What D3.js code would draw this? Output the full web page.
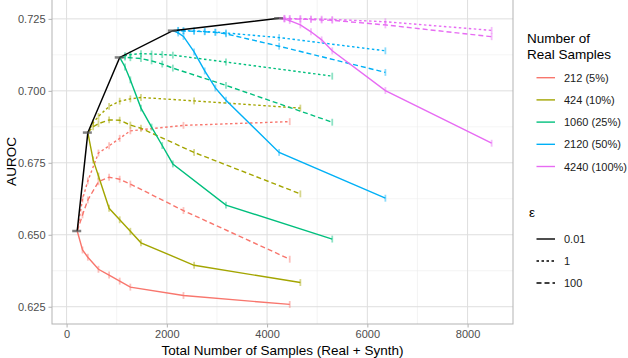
<!DOCTYPE html>
<html>
<head>
<meta charset="utf-8">
<script src="https://cdn.jsdelivr.net/npm/d3@7"></script>
<style>
body { margin: 0; background: #fff; }
svg { font-family: "Liberation Sans", Arial, sans-serif; }
</style>
</head>
<body>
<svg id="chart" width="628" height="358"></svg>
<script>
// Data
const realSizes = [212, 424, 1060, 2120, 4240]
const realLabels = ['212 (5%)', '424 (10%)', '1060 (25%)', '2120 (50%)', '4240 (100%)']
const epsilons = ['0.01', '1', '100']
const synthSteps = [0, 106, 212, 424, 636, 848, 1060, 2120, 4240]
const baselineAuroc = [0.6513, 0.6855, 0.7116, 0.7209, 0.7252]

// one row per epsilon (0.01, 1, 100), one value per synth step
const auroc212 = [
    [0.6513, 0.6447, 0.6422, 0.6380, 0.6360, 0.6339, 0.6318, 0.6289, 0.6258],
    [0.6513, 0.6624, 0.6687, 0.6784, 0.6809, 0.6835, 0.6861, 0.6880, 0.6893],
    [0.6513, 0.6569, 0.6621, 0.6684, 0.6700, 0.6693, 0.6676, 0.6584, 0.6415]
]
const auroc424 = [
    [0.6855, 0.6760, 0.6704, 0.6592, 0.6552, 0.6512, 0.6472, 0.6394, 0.6334],
    [0.6855, 0.6889, 0.6911, 0.6946, 0.6964, 0.6972, 0.6977, 0.6965, 0.6940],
    [0.6855, 0.6875, 0.6886, 0.6899, 0.6898, 0.6881, 0.6870, 0.6786, 0.6642]
]
const auroc1060 = [
    [0.7116, 0.7083, 0.7038, 0.6940, 0.6874, 0.6810, 0.6746, 0.6603, 0.6485],
    [0.7116, 0.7122, 0.7126, 0.7129, 0.7128, 0.7126, 0.7124, 0.7100, 0.7051],
    [0.7116, 0.7117, 0.7115, 0.7112, 0.7104, 0.7093, 0.7079, 0.7019, 0.6891]
]
const auroc2120 = [
    [0.7209, 0.7201, 0.7189, 0.7135, 0.7069, 0.7010, 0.6967, 0.6786, 0.6627],
    [0.7209, 0.7210, 0.7209, 0.7208, 0.7206, 0.7204, 0.7201, 0.7185, 0.7139],
    [0.7209, 0.7209, 0.7208, 0.7207, 0.7205, 0.7203, 0.7198, 0.7155, 0.7064]
]
const auroc4240 = [
    [0.7252, 0.7249, 0.7244, 0.7229, 0.7205, 0.7177, 0.7139, 0.7001, 0.6818],
    [0.7252, 0.7252, 0.7251, 0.7251, 0.7250, 0.7249, 0.7248, 0.7240, 0.7210],
    [0.7252, 0.7251, 0.7250, 0.7249, 0.7248, 0.7246, 0.7245, 0.7229, 0.7188]
]
const aurocByReal = [auroc212, auroc424, auroc1060, auroc2120, auroc4240]
const errHalf = 0.0012

const xTicks = [0, 2000, 4000, 6000, 8000]
const xMinor = [1000, 3000, 5000, 7000]
const yTicks = [0.625, 0.650, 0.675, 0.700, 0.725]
const yMinor = [0.6375, 0.6625, 0.6875, 0.7125]

// Presentation
const palette = ['#F8766D', '#A3A500', '#00BF7D', '#00B0F6', '#E76BF3']
const dashes = { '0.01': null, '1': '2.5,2.5', '100': '5,3' }
const panel = { left: 52, right: 513, top: -1, bottom: 324 }

const svg = d3.select('#chart')

// Scales
const x = d3.scaleLinear().domain([-291, 8906]).range([panel.left, panel.right])
const y = d3.scaleLinear().domain([0.619, 0.7319]).range([panel.bottom, panel.top])

// Grid
const grid = svg.append('g')
grid.selectAll('line.xminor').data(xMinor).join('line')
    .attr('x1', d => x(d)).attr('x2', d => x(d))
    .attr('y1', panel.top).attr('y2', panel.bottom)
    .attr('stroke', '#ececec').attr('stroke-width', 0.6)
grid.selectAll('line.yminor').data(yMinor).join('line')
    .attr('y1', d => y(d)).attr('y2', d => y(d))
    .attr('x1', panel.left).attr('x2', panel.right)
    .attr('stroke', '#ececec').attr('stroke-width', 0.6)
grid.selectAll('line.xmajor').data(xTicks).join('line')
    .attr('x1', d => x(d)).attr('x2', d => x(d))
    .attr('y1', panel.top).attr('y2', panel.bottom)
    .attr('stroke', '#dedede').attr('stroke-width', 1)
grid.selectAll('line.ymajor').data(yTicks).join('line')
    .attr('y1', d => y(d)).attr('y2', d => y(d))
    .attr('x1', panel.left).attr('x2', panel.right)
    .attr('stroke', '#dedede').attr('stroke-width', 1)

// Series
const series = []
realSizes.forEach((n, i) => {
    epsilons.forEach((eps, j) => {
        series.push({
            color: palette[i],
            eps,
            points: synthSteps.map((s, k) => ({ total: n + s, auroc: aurocByReal[i][j][k] }))
        })
    })
})

const line = d3.line().x(d => x(d.total)).y(d => y(d.auroc))

const plot = svg.append('g')

// error bars
series.forEach(s => {
    plot.append('g')
        .selectAll('line')
        .data(s.points.slice(1))
        .join('line')
        .attr('x1', d => x(d.total)).attr('x2', d => x(d.total))
        .attr('y1', d => y(d.auroc - errHalf)).attr('y2', d => y(d.auroc + errHalf))
        .attr('stroke', s.color).attr('stroke-opacity', 0.45).attr('stroke-width', 1.8)
})

plot.selectAll('path.series').data(series).join('path')
    .attr('class', 'series')
    .attr('d', d => line(d.points))
    .attr('fill', 'none')
    .attr('stroke', d => d.color)
    .attr('stroke-width', 1.4)
    .attr('stroke-dasharray', d => dashes[d.eps])

// real-only baseline
const baseline = realSizes.map((n, i) => ({ total: n, auroc: baselineAuroc[i] }))
plot.append('path')
    .attr('d', line(baseline))
    .attr('fill', 'none')
    .attr('stroke', '#000')
    .attr('stroke-width', 1.5)
plot.selectAll('line.base').data(baseline).join('line')
    .attr('x1', d => x(d.total) - 5).attr('x2', d => x(d.total) + 4)
    .attr('y1', d => y(d.auroc)).attr('y2', d => y(d.auroc))
    .attr('stroke', '#555').attr('stroke-opacity', 0.75).attr('stroke-width', 2.5)

// Panel border
svg.append('rect')
    .attr('x', panel.left).attr('y', panel.top)
    .attr('width', panel.right - panel.left).attr('height', panel.bottom - panel.top)
    .attr('fill', 'none').attr('stroke', '#b3b3b3').attr('stroke-width', 1)

// Axes
const xAxis = svg.append('g')
    .attr('transform', `translate(0, ${panel.bottom})`)
    .call(d3.axisBottom(x).tickValues(xTicks).tickFormat(d3.format('d')).tickSize(3.5).tickPadding(3))
const yAxis = svg.append('g')
    .attr('transform', `translate(${panel.left}, 0)`)
    .call(d3.axisLeft(y).tickValues(yTicks).tickFormat(d3.format('.3f')).tickSize(3.5).tickPadding(3))
;[xAxis, yAxis].forEach(a => {
    a.select('.domain').remove()
    a.selectAll('.tick line').attr('stroke', '#b3b3b3')
    a.selectAll('.tick text')
        .attr('fill', '#4d4d4d')
        .style('font-size', '11px')
        .style('font-family', '"Liberation Sans", Arial, sans-serif')
})

// Axis titles
svg.append('text')
    .attr('x', (panel.left + panel.right) / 2).attr('y', 355)
    .attr('text-anchor', 'middle')
    .style('font-size', '13.5px')
    .text('Total Number of Samples (Real + Synth)')
svg.append('text')
    .attr('transform', `translate(16, ${(panel.top + panel.bottom) / 2}) rotate(-90)`)
    .attr('text-anchor', 'middle')
    .style('font-size', '13.5px')
    .text('AUROC')

// Legend: real samples
const legend = svg.append('g')
legend.append('text').attr('x', 527).attr('y', 43).style('font-size', '13.5px').text('Number of')
legend.append('text').attr('x', 527).attr('y', 59).style('font-size', '13.5px').text('Real Samples')
const colorKeys = legend.selectAll('g.ckey').data(realLabels).join('g')
    .attr('transform', (_, i) => `translate(0, ${77.7 + i * 22.2})`)
colorKeys.append('line')
    .attr('x1', 536.5).attr('x2', 555).attr('y1', 0).attr('y2', 0)
    .attr('stroke', (_, i) => palette[i]).attr('stroke-width', 1.4)
colorKeys.append('text')
    .attr('x', 564).attr('y', 4)
    .style('font-size', '11px').attr('fill', '#1a1a1a')
    .text(d => d)

// Legend: epsilon
legend.append('text').attr('x', 529).attr('y', 217).style('font-size', '13.5px').text('ε')
const epsKeys = legend.selectAll('g.ekey').data(epsilons).join('g')
    .attr('transform', (_, i) => `translate(0, ${239 + i * 22})`)
epsKeys.append('line')
    .attr('x1', 536.5).attr('x2', 555).attr('y1', 0).attr('y2', 0)
    .attr('stroke', '#000').attr('stroke-width', 1.4)
    .attr('stroke-dasharray', d => dashes[d])
epsKeys.append('text')
    .attr('x', 564).attr('y', 4)
    .style('font-size', '11px').attr('fill', '#1a1a1a')
    .text(d => d)
</script>
</body>
</html>
